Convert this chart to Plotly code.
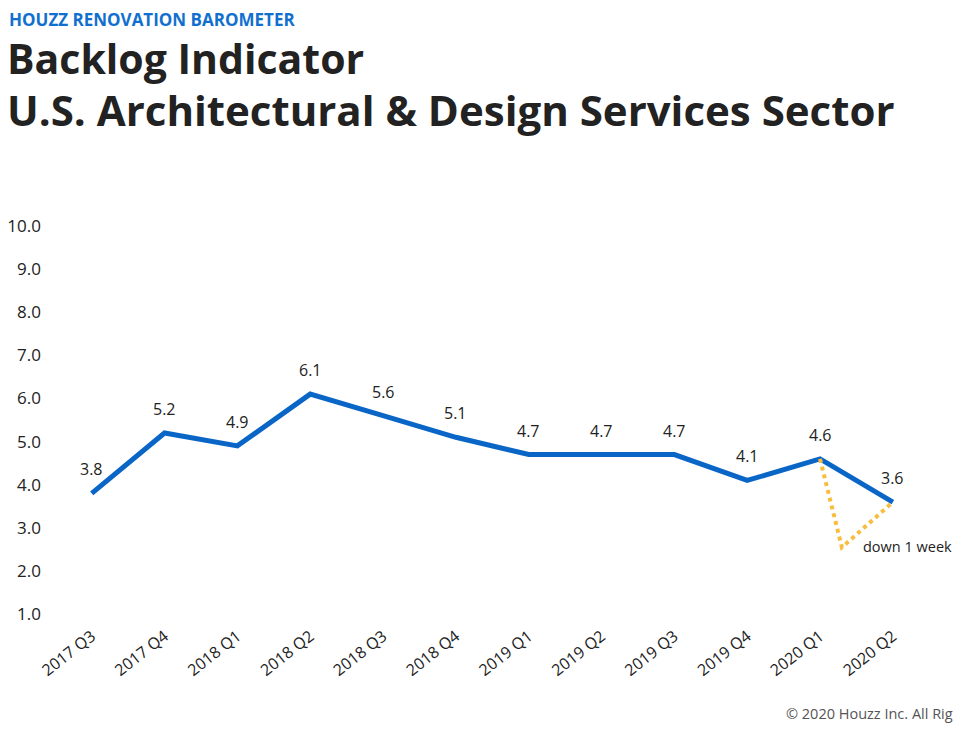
import plotly.graph_objects as go

quarters = ["2017 Q3", "2017 Q4", "2018 Q1", "2018 Q2", "2018 Q3", "2018 Q4",
            "2019 Q1", "2019 Q2", "2019 Q3", "2019 Q4", "2020 Q1", "2020 Q2"]
backlog = [3.8, 5.2, 4.9, 6.1, 5.6, 5.1, 4.7, 4.7, 4.7, 4.1, 4.6, 3.6]
dip_x = [10, 10.3, 11]
dip_y = [4.6, 2.55, 3.6]
y_ticks = [1, 2, 3, 4, 5, 6, 7, 8, 9, 10]

# the page adds an 8px body margin; the figure fills the rest without scrolling
OFF = 8
W, H = 946, 715
ML, MR, MT, MB = 40, 32, 209, 100
FONT = "Open Sans"

def py(y_ref):
    return (H - MB - (y_ref - OFF)) / (H - MT - MB)

def px(x_ref):
    return ((x_ref - OFF) - ML) / (W - ML - MR)

xs = list(range(len(quarters)))

fig = go.Figure()
fig.add_trace(go.Scatter(x=xs, y=backlog, mode="lines",
                         line=dict(color="#0a66c6", width=5), hoverinfo="skip"))
fig.add_trace(go.Scatter(x=dip_x, y=dip_y, mode="lines",
                         line=dict(color="#f8bd3c", width=4, dash="dot"), hoverinfo="skip"))

annotations = []
for x, v in zip(xs, backlog):
    annotations.append(dict(x=x, y=v, text=f"{v:.1f}", showarrow=False,
                            yshift=24, font=dict(family=FONT, size=16, color="#222")))
annotations.append(dict(x=dip_x[1], y=dip_y[1], text="down 1 week", showarrow=False,
                        xanchor="left", xshift=19, yshift=1,
                        font=dict(family=FONT, size=14.5, color="#222")))
annotations.append(dict(xref="paper", yref="paper", x=px(8), y=py(19), borderpad=0,
                        xanchor="left", yanchor="middle", text="<b>HOUZZ RENOVATION BAROMETER</b>",
                        showarrow=False, font=dict(family=FONT, size=17, color="#1170cf")))
annotations.append(dict(xref="paper", yref="paper", x=px(6), y=py(58), borderpad=0,
                        xanchor="left", yanchor="middle", text="<b>Backlog Indicator</b>",
                        showarrow=False, font=dict(family=FONT, size=41, color="#222")))
annotations.append(dict(xref="paper", yref="paper", x=px(6), y=py(109), borderpad=0,
                        xanchor="left", yanchor="middle",
                        text="<b>U.S. Architectural & Design Services Sector</b>",
                        showarrow=False, font=dict(family=FONT, size=42, color="#222")))
annotations.append(dict(xref="paper", yref="paper", x=px(784), y=py(713),
                        xanchor="left", yanchor="middle",
                        text="© 2020 Houzz Inc. All Rig",
                        showarrow=False, font=dict(family=FONT, size=14.5, color="#555")))

fig.update_layout(
    width=W, height=H,
    margin=dict(l=ML, r=MR, t=MT, b=MB, pad=0),
    paper_bgcolor="white", plot_bgcolor="white",
    showlegend=False,
    annotations=annotations,
    xaxis=dict(range=[-0.6, 11.4], tickmode="array", tickvals=xs, ticktext=quarters,
               tickangle=-38, showgrid=False, zeroline=False, showline=False,
               automargin=False, ticks="",
               tickfont=dict(family=FONT, size=16, color="#222")),
    yaxis=dict(range=[0.8, 10.2], tickmode="array", tickvals=y_ticks,
               ticktext=[f"{t:.1f}" for t in y_ticks],
               showgrid=False, zeroline=False, showline=False,
               automargin=False, ticks="", ticklabelstandoff=6,
               tickfont=dict(family=FONT, size=17, color="#222")),
)
fig.write_html("out.html")
